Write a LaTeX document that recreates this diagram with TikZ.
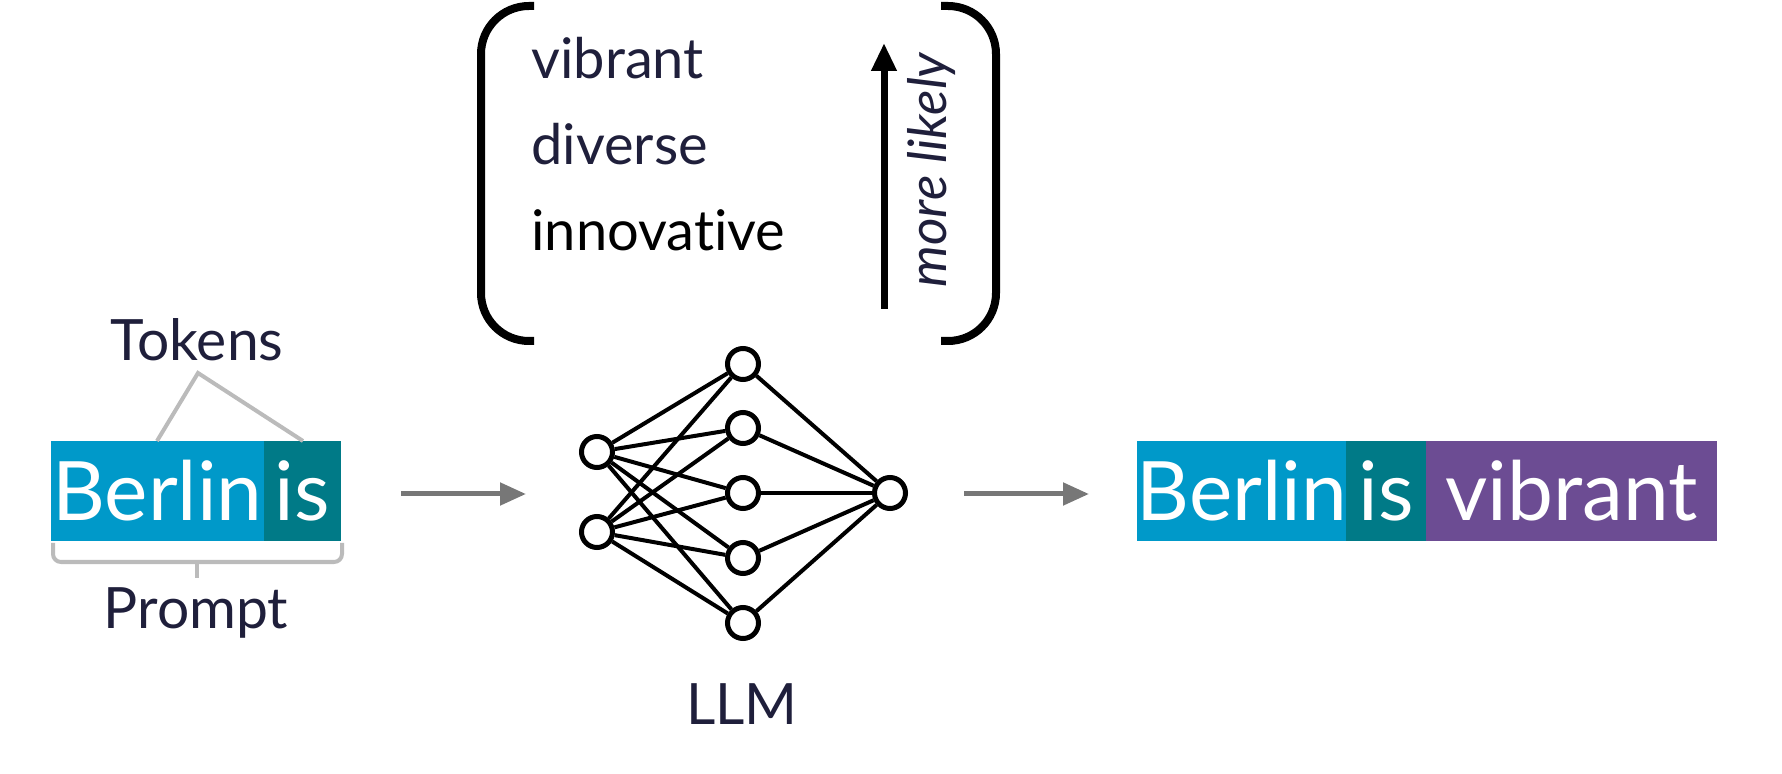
\documentclass[tikz,border=0pt]{standalone}
\usepackage{fontspec}
\setmainfont{Lato}[Ligatures=NoCommon]
\usetikzlibrary{arrows.meta}
\definecolor{navytext}{HTML}{1F1F3B}
\definecolor{cyanbox}{HTML}{0099C9}
\definecolor{tealbox}{HTML}{007A87}
\definecolor{purplebox}{HTML}{6C4C93}
\definecolor{bracegray}{HTML}{BBBBBB}
\definecolor{arrowgray}{HTML}{777777}
\begin{document}
\begin{tikzpicture}[x=0.5pt,y=-0.5pt,
  tok/.style={fill=#1, text=white, inner sep=0pt, minimum height=50pt,
    font=\fontsize{41}{41}\selectfont, text height=29.4pt, text depth=0pt},
  lbl/.style={text=navytext, inner sep=0pt, font=\fontsize{28.5}{32}\selectfont},
  lst/.style={text=navytext, inner sep=0pt, font=\fontsize{28}{32}\selectfont},
  neuron/.style={circle, draw=black, line width=2.5pt, fill=white, minimum size=15.5pt, inner sep=0pt},
  nnedge/.style={line width=2pt, draw=black},
  garrow/.style={draw=arrowgray, line width=2.5pt, -{Triangle[width=11pt,length=13pt]}},
  brk/.style={draw=black, line width=4pt, rounded corners=24pt},
  gline/.style={draw=bracegray, line width=2pt}]
\useasboundingbox (0,0) rectangle (1782,774);

% prompt tokens
\node[tok=cyanbox, minimum width=106.5pt] (b1) at (157.5,491) {Berlin};
\node[tok=tealbox, minimum width=38.5pt] (i1) at (302.5,491) {is};
\node[lbl, anchor=base] (tokens) at (197,361) {Tokens};
\coordinate (apex) at (198,373);
\coordinate (tl) at (157,441);
\coordinate (tr) at (303,441);
\draw[gline] (tl) -- (apex) -- (tr);
\draw[gline, rounded corners=4pt] (53,543) -- (53,562) -- (342,562) -- (342,543);
\draw[gline] (197,562) -- (197,578);
\node[lbl, anchor=base] (prompt) at (196,628) {Prompt};

% arrow 1
\coordinate (a1s) at (401,494);
\coordinate (a1e) at (526,494);
\draw[garrow] (a1s) -- (a1e);

% neural net
\node[neuron] (in1) at (597,452) {};
\node[neuron] (in2) at (597,532) {};
\node[neuron] (h1) at (743,364) {};
\node[neuron] (h2) at (743,428) {};
\node[neuron] (h3) at (743,493) {};
\node[neuron] (h4) at (743,558) {};
\node[neuron] (h5) at (743,623) {};
\node[neuron] (out) at (890,493) {};
\foreach \i in {in1,in2}{
  \foreach \h in {h1,h2,h3,h4,h5}{
    \draw[nnedge] (\i) -- (\h);
  }
}
\foreach \h in {h1,h2,h3,h4,h5}{
  \draw[nnedge] (\h) -- (out);
}
\node[lbl, anchor=base] (llm) at (742,724) {LLM};

% candidate list
\draw[brk] (534,6) -- (481,6) -- (481,341) -- (534,341);
\draw[brk] (941,6) -- (996,6) -- (996,341) -- (941,341);
\node[lst, anchor=base west] (w1) at (531,79) {vibrant};
\node[lst, anchor=base west] (w2) at (531,165) {diverse};
\node[lst, anchor=base west, text=black] (w3) at (531,251) {innovative};
\coordinate (ub) at (884,309);
\coordinate (ut) at (884,43);
\draw[line width=3.5pt, -{Triangle[width=12pt,length=14pt]}] (ub) -- (ut);
\node[lbl, rotate=90, anchor=base, font=\itshape\fontsize{26.5}{30}\selectfont] (ml) at (946,170) {more likely};

% arrow 2
\coordinate (a2s) at (964,494);
\coordinate (a2e) at (1089,494);
\draw[garrow] (a2s) -- (a2e);

% output tokens
\node[tok=cyanbox, minimum width=104pt] (b2) at (1242,491) {Berlin};
\node[tok=tealbox, minimum width=40pt] (i2) at (1386,491) {is};
\node[tok=purplebox, minimum width=145.5pt] (v2) at (1571.5,491) {vibrant};
\end{tikzpicture}
\end{document}
